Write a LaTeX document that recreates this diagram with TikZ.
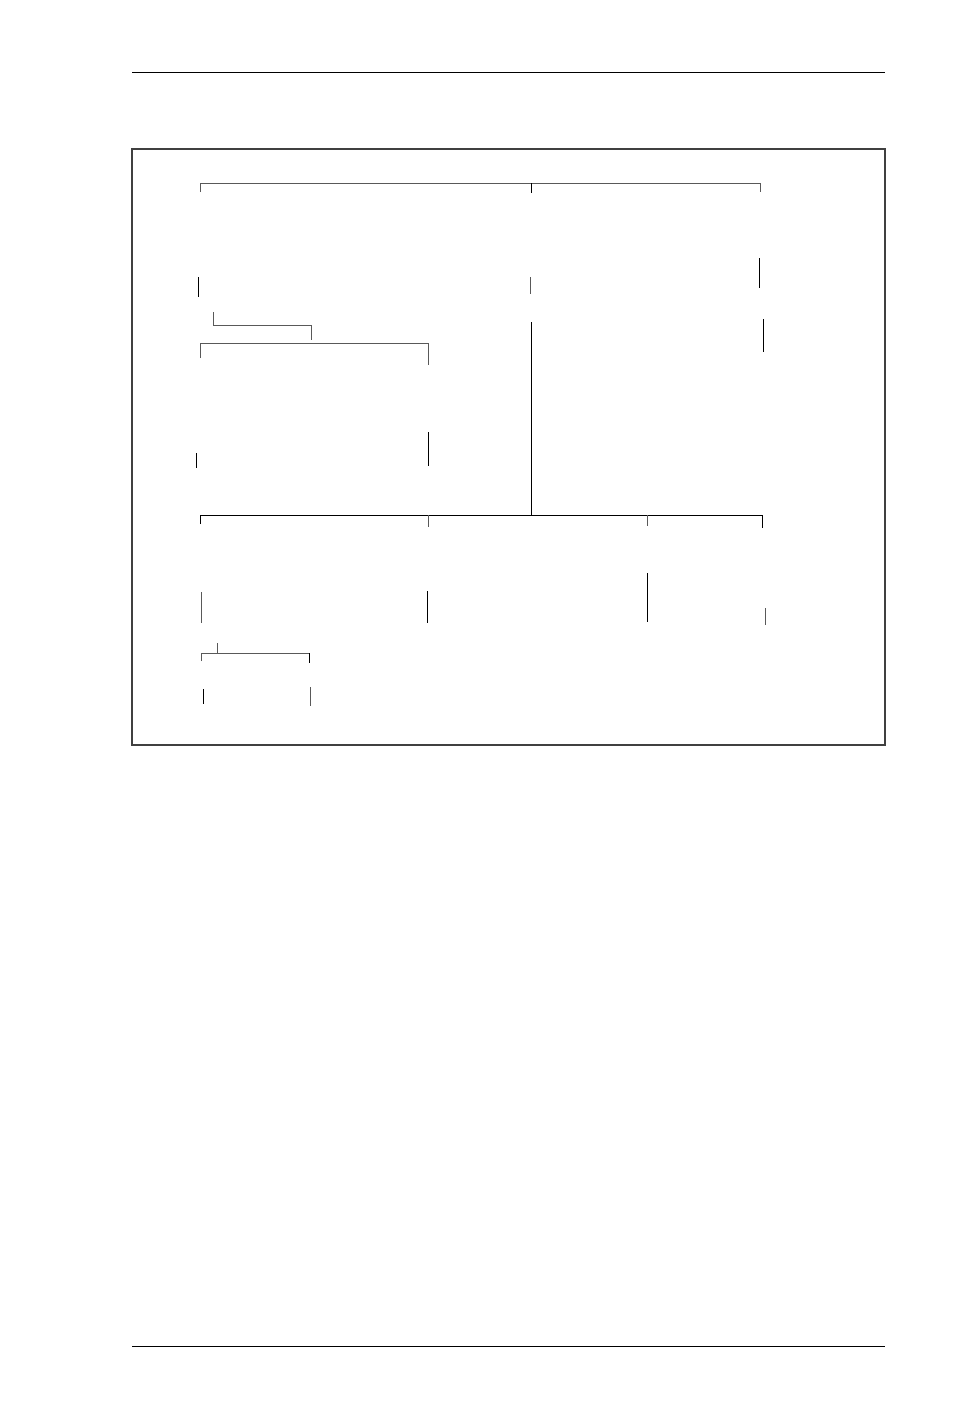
\documentclass[tikz,border=0pt]{standalone}
\begin{document}
\begin{tikzpicture}[x=1pt,y=-1pt,
  ln/.style={line width=1pt,black},
  gl/.style={line width=1pt,black!65},
  fr/.style={line width=1.1pt,black!75}]
\useasboundingbox (0,0) rectangle (969,1414);
% page rules
\draw[ln] (132,72) -- (885,72);
\draw[ln] (132,1346) -- (885,1346);
% frame
\draw[fr] (132,149) rectangle (885,745);
% top bracket
\draw[gl] (200,192) -- (200,183) -- (760,183) -- (760,192);
\draw[ln] (531,183) -- (531,193);
% short verticals row 1
\draw[ln] (198,277) -- (198,297);
\draw[gl] (530,277) -- (530,294);
\draw[ln] (759,258) -- (759,288);
\draw[ln] (763,319) -- (763,352);
% small bracket 1
\draw[gl] (213,312) -- (213,325) -- (311,325) -- (311,340);
% middle bracket
\draw[gl] (200,358) -- (200,343) -- (428,343) -- (428,365);
% long vertical to bottom bracket
\draw[ln] (531,322) -- (531,515);
\draw[ln] (428,432) -- (428,466);
\draw[ln] (196,453) -- (196,468);
% bottom bracket
\draw[ln] (200,524) -- (200,515) -- (762,515) -- (762,528);
\draw[gl] (428,515) -- (428,527);
\draw[gl] (647,515) -- (647,526);
% verticals row 3
\draw[gl] (201,592) -- (201,623);
\draw[ln] (427,591) -- (427,623);
\draw[ln] (647,573) -- (647,622);
\draw[gl] (765,608) -- (765,625);
% small bracket 2
\draw[gl] (217,643) -- (217,653);
\draw[gl] (201,661) -- (201,653) -- (309,653);
\draw[ln] (309,653) -- (309,663);
% bottom verticals
\draw[ln] (203,689) -- (203,704);
\draw[gl] (310,687) -- (310,706);
\end{tikzpicture}
\end{document}
